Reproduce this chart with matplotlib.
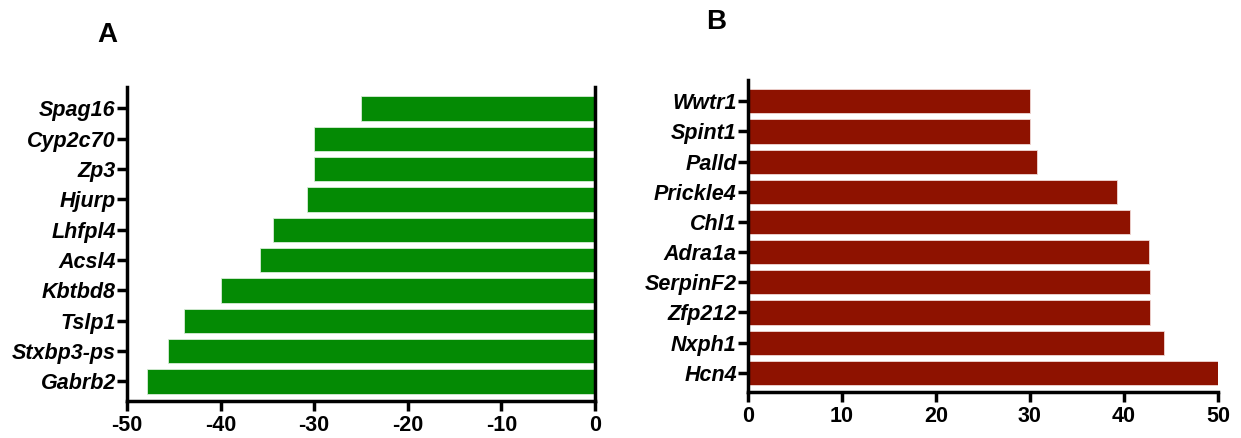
"""
Two-panel horizontal bar chart: down-regulated (A) and up-regulated (B) genes.
"""

import matplotlib
matplotlib.use("Agg")
import matplotlib.pyplot as plt

# Panel A (bottom to top)
genes_a = ["Gabrb2", "Stxbp3-ps", "Tslp1", "Kbtbd8", "Acsl4",
           "Lhfpl4", "Hjurp", "Zp3", "Cyp2c70", "Spag16"]
values_a = [-47.9, -45.6, -43.9, -40.0, -35.8, -34.4, -30.8, -30.0, -30.0, -25.0]

# Panel B (bottom to top)
genes_b = ["Hcn4", "Nxph1", "Zfp212", "SerpinF2", "Adra1a",
           "Chl1", "Prickle4", "Palld", "Spint1", "Wwtr1"]
values_b = [50.0, 44.3, 42.8, 42.8, 42.7, 40.6, 39.3, 30.7, 30.0, 30.0]

ticks_a = [-50, -40, -30, -20, -10, 0]
ticks_b = [0, 10, 20, 30, 40, 50]

GREEN = "#048A04"
RED = "#8E1200"
NARROW = ['Liberation Sans Narrow', 'Liberation Sans', 'DejaVu Sans']

plt.rcParams['font.family'] = ['Liberation Sans', 'DejaVu Sans']

fig = plt.figure(figsize=(12.41, 4.38), dpi=100)
ax_a = fig.add_axes([0.1023, 0.084, 0.3771, 0.717])
ax_b = fig.add_axes([0.6027, 0.104, 0.3787, 0.713])


def style_axis(ax, genes, ticks):
    ax.set_yticks(range(len(genes)))
    ax.set_yticklabels(genes, fontsize=15.5, fontweight='bold', fontstyle='italic')
    ax.set_xticks(ticks)
    ax.set_xticklabels([str(t) for t in ticks], fontsize=15.5, fontweight='bold',
                       family=NARROW)
    ax.tick_params(axis='both', direction='out', length=7, width=2.5)
    ax.tick_params(axis='y', pad=1)
    ax.tick_params(axis='x', pad=3)
    ax.set_ylim(-0.65, 9.7)
    for side in ('left', 'bottom', 'right'):
        ax.spines[side].set_linewidth(2.5)
    ax.spines['top'].set_visible(False)


# Panel A
ax_a.barh(range(len(genes_a)), values_a, height=0.8, color=GREEN,
          edgecolor='#d8ecd8', linewidth=0.6)
style_axis(ax_a, genes_a, ticks_a)
ax_a.set_xlim(-50, 0)

# Panel B
ax_b.barh(range(len(genes_b)), values_b, height=0.8, color=RED,
          edgecolor='#f0d8d4', linewidth=0.6)
style_axis(ax_b, genes_b, ticks_b)
ax_b.set_xlim(0, 50)
ax_b.spines['right'].set_visible(False)

# panel letters
fig.text(107 / 1241, 1 - 35 / 438, "A", fontsize=20, fontweight='bold',
         family=NARROW, ha='center', va='center')
fig.text(716 / 1241, 1 - 22 / 438, "B", fontsize=20, fontweight='bold',
         family=NARROW, ha='center', va='center')

fig.savefig("out.png", dpi=100)
